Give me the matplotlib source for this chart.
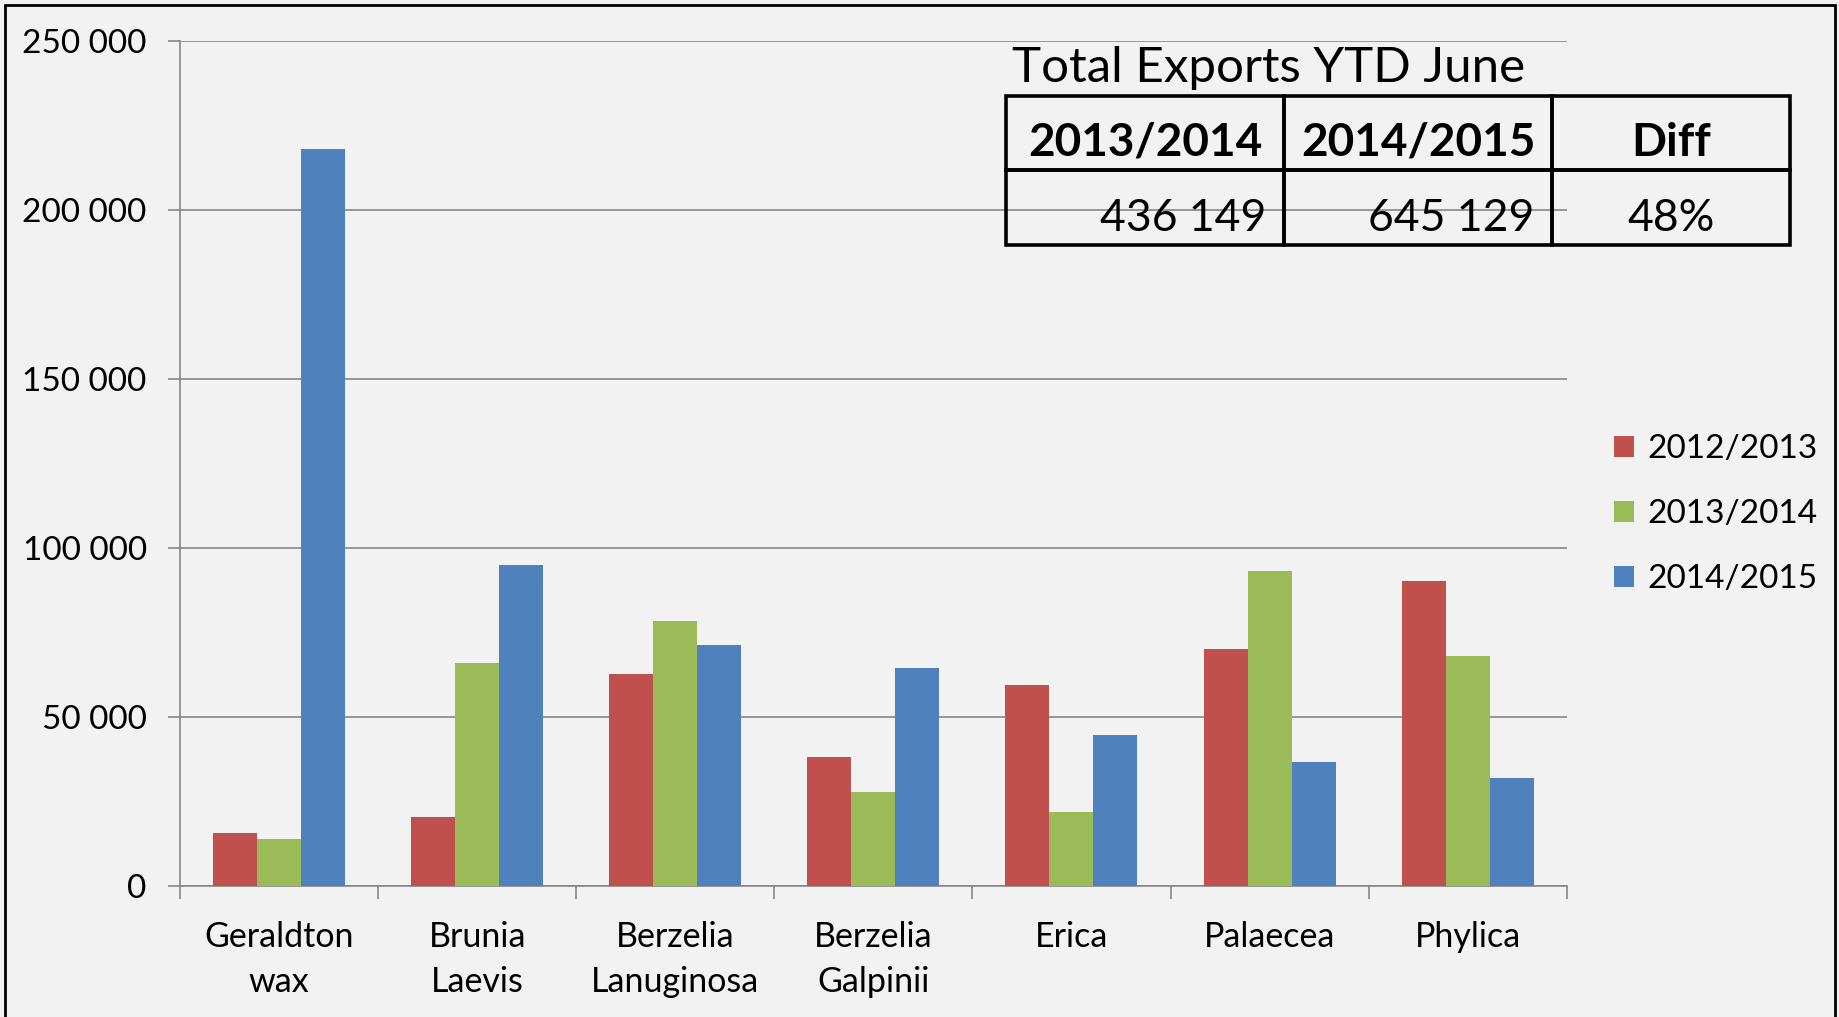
import numpy as np
import matplotlib
matplotlib.use("Agg")
import matplotlib.pyplot as plt
from matplotlib.patches import Rectangle
from matplotlib.ticker import FuncFormatter

plt.rcParams["font.family"] = ["Lato", "DejaVu Sans"]

categories = ["Geraldton\nwax", "Brunia\nLaevis", "Berzelia\nLanuginosa", "Berzelia\nGalpinii",
              "Erica", "Palaecea", "Phylica"]
series_names = ["2012/2013", "2013/2014", "2014/2015"]
vals_1213 = [15600, 20500, 62800, 38200, 59400, 70100, 90300]
vals_1314 = [13900, 66000, 78500, 27800, 21900, 93100, 68100]
vals_1415 = [218000, 95100, 71200, 64600, 44800, 36800, 31900]
colors = ["#C0504D", "#9BBB59", "#4F81BD"]

table_header = ["2013/2014", "2014/2015", "Diff"]
table_values = ["436 149", "645 129", "48%"]
table_title = "Total Exports YTD June"

W, H = 1839, 1017
bg = "#f2f2f2"
grid_col = "#868686"


def fx(px):
    return px / W


def fy(px):
    return 1 - px / H


fig = plt.figure(figsize=(W / 100, H / 100), dpi=100, facecolor=bg)

# plot area
ax = fig.add_axes([fx(180), fy(886), (1566.7 - 180) / W, (886 - 41) / H])
ax.set_facecolor(bg)

x = np.arange(len(categories))
bw = 0.222
for i, (vals, name) in enumerate(zip([vals_1213, vals_1314, vals_1415], series_names)):
    ax.bar(x + (i - 1) * bw, vals, width=bw, color=colors[i], label=name, zorder=3)

ax.set_xlim(-0.5, len(categories) - 0.5)
ax.set_ylim(0, 250000)
ax.set_yticks(np.arange(0, 250001, 50000))
ax.yaxis.set_major_formatter(FuncFormatter(lambda v, p: f"{int(v):,}".replace(",", " ")))
ax.grid(axis="y", color=grid_col, linewidth=1.2, zorder=0)
ax.set_axisbelow(True)

ax.set_xticks(x)
ax.set_xticklabels(categories, fontsize=24.5, linespacing=1.5)
ax.set_xticks(np.arange(-0.5, len(categories)), minor=True)
ax.tick_params(axis="x", which="major", length=0, pad=25)
ax.tick_params(axis="x", which="minor", length=9, width=1.2, color=grid_col)
ax.tick_params(axis="y", length=9, width=1.2, color=grid_col, labelsize=24, pad=15)

for s in ["top", "right"]:
    ax.spines[s].set_visible(False)
for s in ["left", "bottom"]:
    ax.spines[s].set_color(grid_col)
    ax.spines[s].set_linewidth(1.2)

fig.legend(loc="center left", bbox_to_anchor=(fx(1584), fy(514)), frameon=False,
           fontsize=24, handlelength=0.6, handleheight=0.6, handletextpad=0.4,
           labelspacing=1.05)

# summary table, drawn by hand
fig.text(fx(1012), fy(82), table_title, fontsize=35.5, ha="left", va="baseline")
col_edges = [1006, 1284, 1552, 1790]
row_edges = [96, 170, 245]
for r in range(2):
    for c in range(3):
        fig.patches.append(Rectangle((fx(col_edges[c]), fy(row_edges[r + 1])),
                                     (col_edges[c + 1] - col_edges[c]) / W,
                                     (row_edges[r + 1] - row_edges[r]) / H,
                                     transform=fig.transFigure, fill=False,
                                     edgecolor="black", linewidth=2.6))
for c, txt in enumerate(table_header):
    fig.text(fx((col_edges[c] + col_edges[c + 1]) / 2), fy(156), txt, fontsize=33,
             fontweight="bold", ha="center", va="baseline")
for c, txt in enumerate(table_values):
    if c < 2:
        fig.text(fx(col_edges[c + 1] - 18), fy(231), txt, fontsize=32, ha="right", va="baseline")
    else:
        fig.text(fx((col_edges[c] + col_edges[c + 1]) / 2), fy(231), txt, fontsize=32,
                 ha="center", va="baseline")

# outer frame
fig.patches.append(Rectangle((fx(5), -0.05), (1835 - 5) / W, 1.05 - 5 / H, transform=fig.transFigure,
                             fill=False, edgecolor="black", linewidth=2))

fig.savefig("out.png", dpi=100, facecolor=bg)
